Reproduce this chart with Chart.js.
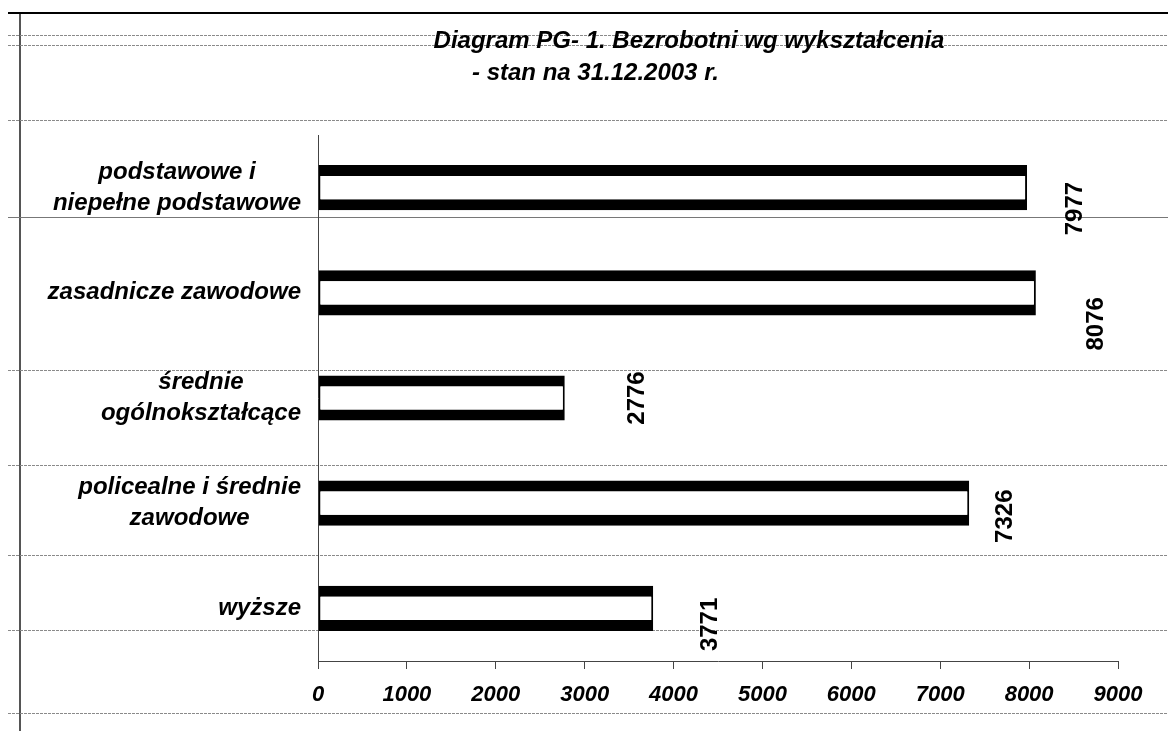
<!DOCTYPE html>
<html><head><meta charset="utf-8">
<script src="https://cdn.jsdelivr.net/npm/chart.js@4/dist/chart.umd.min.js"></script>
<style>html,body{margin:0;padding:0;background:#fff;}#wrap{position:relative;width:1168px;height:731px;}</style>
</head><body><div id="wrap"><canvas id="c" width="1168" height="731"></canvas></div>
<script>
// ---- data ----
const titleLines = ['Diagram PG- 1. Bezrobotni wg wykształcenia', '- stan na 31.12.2003 r.'];
const categories = [
  ['podstawowe i', 'niepełne podstawowe'],
  ['zasadnicze zawodowe'],
  ['średnie', 'ogólnokształcące'],
  ['policealne i średnie', 'zawodowe'],
  ['wyższe']
];
const values = [7977, 8076, 2776, 7326, 3771];
const xMin = 0, xMax = 9000, xStep = 1000;

// ---- styling / layout (not data) ----
const FONT = '"Liberation Sans", Arial, sans-serif';
const valueLabelOffsets = [[48, 21], [61, 31], [73, 0], [36, 13], [57, 16]];
const pageLinesDashed = [35, 45, 120, 370, 465, 555, 630, 713];
const pageLinesSolid = [217];

const pagePlugin = {
  id: 'page',
  beforeDraw(chart) {
    const ctx = chart.ctx;
    ctx.save();
    ctx.fillStyle = '#fff';
    ctx.fillRect(0, 0, chart.width, chart.height);
    ctx.strokeStyle = '#000';
    ctx.lineWidth = 2;
    ctx.beginPath(); ctx.moveTo(8, 13); ctx.lineTo(1168, 13); ctx.stroke();
    ctx.strokeStyle = '#555';
    ctx.lineWidth = 2;
    ctx.beginPath(); ctx.moveTo(20, 14); ctx.lineTo(20, 731); ctx.stroke();
    ctx.lineWidth = 1;
    ctx.strokeStyle = '#8a8a8a';
    ctx.setLineDash([3, 1]);
    pageLinesDashed.forEach(y => {
      ctx.beginPath(); ctx.moveTo(8, y + 0.5); ctx.lineTo(1168, y + 0.5); ctx.stroke();
    });
    ctx.setLineDash([]);
    ctx.strokeStyle = '#777';
    pageLinesSolid.forEach(y => {
      ctx.beginPath(); ctx.moveTo(8, y + 0.5); ctx.lineTo(1168, y + 0.5); ctx.stroke();
    });
    ctx.restore();
  },
  afterDraw(chart) {
    const ctx = chart.ctx;
    const xs = chart.scales.x, ys = chart.scales.y;
    ctx.save();
    ctx.fillStyle = '#000';
    ctx.font = 'italic bold 24px ' + FONT;
    ctx.textBaseline = 'middle';
    ctx.textAlign = 'center';
    ctx.fillText(titleLines[0], 689, 41);
    ctx.textAlign = 'left';
    ctx.fillText(titleLines[1], 472, 73);
    ctx.font = 'italic bold 24px ' + FONT;
    const lineH = 31;
    const rightEdge = 301;
    categories.forEach((lines, i) => {
      const cy = ys.getPixelForValue(i);
      const w = Math.max(...lines.map(l => ctx.measureText(l).width));
      const cx = rightEdge - w / 2;
      ctx.textAlign = 'center';
      lines.forEach((l, j) => {
        const y = cy + (j - (lines.length - 1) / 2) * lineH;
        ctx.fillText(l, cx, y);
      });
    });
    ctx.font = 'bold 24px ' + FONT;
    values.forEach((v, i) => {
      const x = xs.getPixelForValue(v) + valueLabelOffsets[i][0];
      const y = ys.getPixelForValue(i) + valueLabelOffsets[i][1];
      ctx.save();
      ctx.translate(x, y);
      ctx.rotate(-Math.PI / 2);
      ctx.textAlign = 'center';
      ctx.textBaseline = 'middle';
      ctx.fillText(String(v), 0, 0);
      ctx.restore();
    });
    ctx.restore();
  }
};

new Chart(document.getElementById('c'), {
  type: 'bar',
  data: {
    labels: categories,
    datasets: [{
      data: values,
      backgroundColor: '#fff',
      borderColor: '#000',
      borderWidth: { top: 11, bottom: 11, left: 2, right: 2 },
      borderSkipped: false,
      barPercentage: 0.43,
      categoryPercentage: 1
    }]
  },
  options: {
    indexAxis: 'y',
    responsive: false,
    animation: false,
    devicePixelRatio: 1,
    layout: { padding: { left: 318, right: 50, top: 135, bottom: 0 } },
    plugins: { legend: { display: false }, title: { display: false }, tooltip: { enabled: false } },
    scales: {
      x: {
        type: 'linear',
        min: xMin, max: xMax,
        afterFit: s => { s.height = 70; },
        ticks: {
          stepSize: xStep,
          color: '#000',
          padding: 13,
          maxRotation: 0,
          autoSkip: false,
          callback: v => String(v),
          font: { family: FONT, size: 22, weight: 'bold', style: 'italic' }
        },
        grid: { display: true, drawOnChartArea: false, drawTicks: true, tickLength: 8, color: '#444', lineWidth: 1 },
        border: { display: true, color: '#444', width: 1 }
      },
      y: {
        type: 'category',
        offset: true,
        afterFit: s => { s.width = 0; },
        ticks: { display: false },
        grid: { display: false },
        border: { display: true, color: '#444', width: 1 }
      }
    }
  },
  plugins: [pagePlugin]
});
</script>
</body></html>
